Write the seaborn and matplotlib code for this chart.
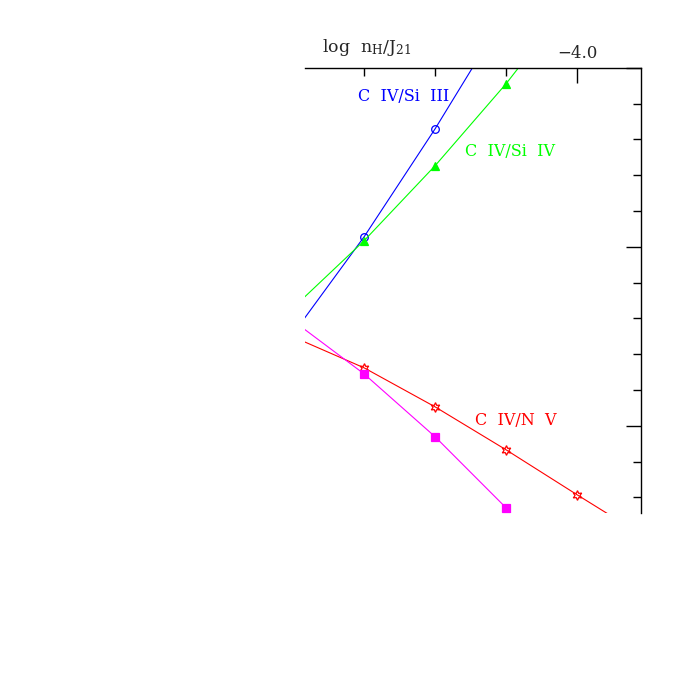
import numpy as np
import pandas as pd
import matplotlib
matplotlib.use('Agg')
import matplotlib.pyplot as plt
from matplotlib.ticker import MultipleLocator, FuncFormatter
import seaborn as sns

# log n_H/J_21 grid
log_nj = [-5.0, -4.75, -4.5, -4.25, -4.0, -3.75]

# column density ratios (log)
civ_siiii = [0.514, 1.056, 1.659, 2.307]
civ_siiv = [0.659, 1.034, 1.453, 1.911, 2.42]
civ_nv = [0.497, 0.324, 0.106, -0.134, -0.385, -0.631]
fourth = [0.587, 0.290, -0.061, -0.458, -0.916]

series = [
    ('C  IV/Si  III', civ_siiii, '#0000ff', 'o', 'none', 5.5),
    ('C  IV/Si  IV', civ_siiv, '#00ff00', '^', None, 5.5),
    ('C  IV/N  V', civ_nv, '#ff0000', (6, 1, 0), 'none', 7),
    ('other', fourth, '#ff00ff', 's', None, 5.5),
]

rows = []
for name, vals, _, _, _, _ in series:
    for x, y in zip(log_nj, vals):
        rows.append({'x': x, 'y': y, 'ratio': name})
df = pd.DataFrame(rows)

sns.set_style('white')
plt.rcParams['font.family'] = ['DejaVu Serif']
plt.rcParams['mathtext.fontset'] = 'dejavuserif'

fig = plt.figure(figsize=(6.78, 6.78), dpi=100)
ax = fig.add_axes([0.4499, 0.2438, 0.4956, 0.6563])

for name, vals, col, mk, fc, ms in series:
    sub = df[df['ratio'] == name]
    kw = dict(marker=mk, markersize=ms, markeredgecolor=col, markeredgewidth=0.9)
    kw['markerfacecolor'] = col if fc is None else fc
    sns.lineplot(data=sub, x='x', y='y', ax=ax, color=col, linewidth=0.8,
                 sort=False, estimator=None, legend=False, **kw)

ax.set_xlim(-4.958, -3.775)
ax.set_ylim(-0.485, 2.0)

for s in ['left', 'bottom']:
    ax.spines[s].set_visible(False)
for s in ['top', 'right']:
    ax.spines[s].set_color('black')
    ax.spines[s].set_linewidth(1.0)

ax.xaxis.tick_top()
ax.yaxis.tick_right()
ax.xaxis.set_major_locator(MultipleLocator(1.0))
ax.xaxis.set_minor_locator(MultipleLocator(0.25))
ax.yaxis.set_major_locator(MultipleLocator(1.0))
ax.yaxis.set_minor_locator(MultipleLocator(0.2))
ax.xaxis.set_major_formatter(FuncFormatter(lambda v, p: f'{v:.1f}'.replace('-', '\u2212')))
ax.tick_params(which='both', direction='in', color='black', width=1.0)
ax.tick_params(which='major', length=11)
ax.tick_params(which='minor', length=6)
ax.tick_params(axis='x', which='major', labelsize=12, pad=4)
ax.tick_params(axis='y', labelright=False, labelleft=False)
ax.set_xlabel('')
ax.set_ylabel('')

ax.text(-4.771, 1.838, 'C  IV/Si  III', color='#0000ff', fontsize=11.5, va='center', ha='left')
ax.text(-4.394, 1.531, 'C  IV/Si  IV', color='#00ff00', fontsize=11.5, va='center', ha='left')
ax.text(-4.359, 0.028, 'C  IV/N  V', color='#ff0000', fontsize=11.5, va='center', ha='left')

fig.text(322 / 678, 1 - 47 / 678, r'log  n$_{\rm H}$/J$_{21}$', fontsize=12.5, ha='left', va='center')

fig.savefig('out.png', dpi=100)
